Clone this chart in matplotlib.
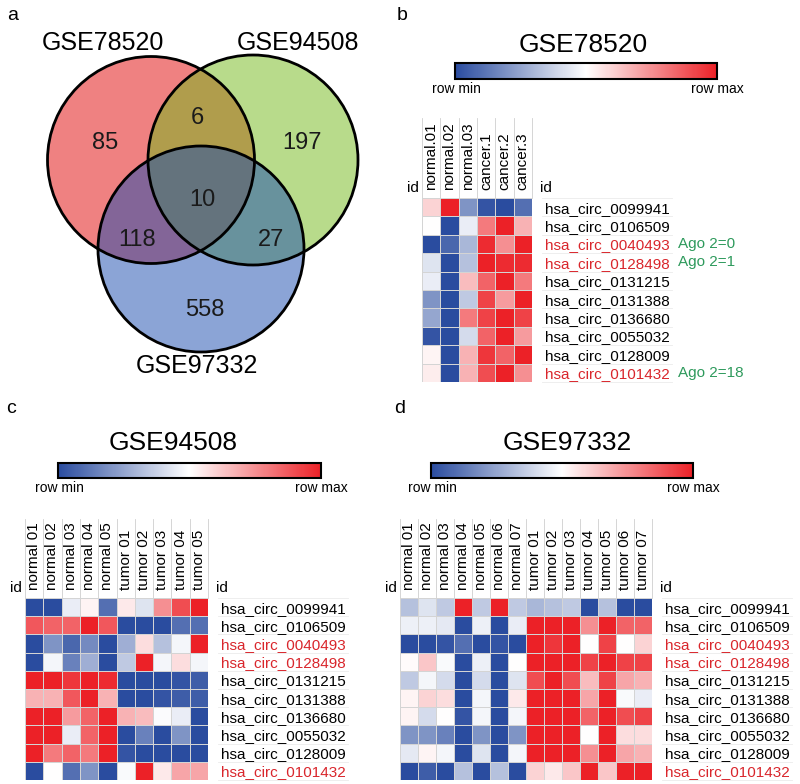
import numpy as np
import matplotlib
matplotlib.use('Agg')
import matplotlib.pyplot as plt
from matplotlib.patches import Circle
from matplotlib.colors import LinearSegmentedColormap
from matplotlib.cm import ScalarMappable

plt.rcParams['font.family'] = ['Liberation Sans', 'DejaVu Sans']

# ---- data ----
venn_names = ['GSE78520', 'GSE94508', 'GSE97332']
# only78520, 78520&94508, only94508, all, 78520&97332, 94508&97332, only97332
venn_counts = [85, 6, 197, 10, 118, 27, 558]

circ_ids = ['hsa_circ_0099941', 'hsa_circ_0106509', 'hsa_circ_0040493', 'hsa_circ_0128498',
            'hsa_circ_0131215', 'hsa_circ_0131388', 'hsa_circ_0136680', 'hsa_circ_0055032',
            'hsa_circ_0128009', 'hsa_circ_0101432']
red_ids = ['hsa_circ_0040493', 'hsa_circ_0128498', 'hsa_circ_0101432']
ago2_ids = ['hsa_circ_0040493', 'hsa_circ_0128498', 'hsa_circ_0101432']
ago2_text = ['Ago 2=0', 'Ago 2=1', 'Ago 2=18']

b_samples = ['normal.01', 'normal.02', 'normal.03', 'cancer.1', 'cancer.2', 'cancer.3']
b_values = [
    [0.2, 1.0, -0.6, -0.95, -1.0, -0.8],
    [0.0, -1.0, -0.1, 0.6, 1.0, 0.35],
    [-1.0, -0.85, -0.4, 0.95, 0.5, 1.0],
    [-0.15, -1.0, -0.35, 1.0, 0.95, 0.95],
    [-0.1, -1.0, 0.3, 0.7, 1.0, 0.6],
    [-0.6, -1.0, -0.3, 0.85, 0.45, 1.0],
    [-0.5, -1.0, 0.6, 0.85, 1.0, 0.85],
    [-0.95, -1.0, -0.2, 0.7, 1.0, 0.45],
    [0.05, -1.0, 0.35, 0.9, 0.7, 1.0],
    [0.08, -1.0, 0.35, 0.8, 1.0, 0.5],
]

c_samples = ['normal 01', 'normal 02', 'normal 03', 'normal 04', 'normal 05',
             'tumor 01', 'tumor 02', 'tumor 03', 'tumor 04', 'tumor 05']
c_values = [
    [-1.0, -1.0, -0.1, 0.05, -0.8, 0.1, -0.15, 0.5, 0.8, 1.0],
    [0.75, 0.7, 0.7, 1.0, 0.75, -1.0, -1.0, -1.0, -0.8, -0.8],
    [-1.0, -0.6, -0.85, -0.65, -1.0, -0.45, 0.15, -0.35, -0.05, 1.0],
    [-1.0, -0.05, -0.7, -0.45, -1.0, -0.3, 1.0, -0.05, 0.15, -0.05],
    [1.0, 1.0, 0.9, 1.0, 0.95, -1.0, -1.0, -1.0, -0.95, -0.9],
    [0.35, 0.35, 0.75, 1.0, 0.35, -1.0, -1.0, -0.95, -0.9, -0.9],
    [1.0, 1.0, 0.45, 0.7, 1.0, 0.35, 0.3, -0.02, -0.1, -1.0],
    [1.0, 1.0, -0.1, 0.7, 1.0, -1.0, -0.7, -1.0, -0.6, -1.0],
    [1.0, 0.6, 0.7, 0.6, 1.0, -0.95, -1.0, -1.0, -1.0, -1.0],
    [-1.0, 0.0, -0.8, -0.6, -1.0, -0.03, 1.0, 0.1, 0.4, 0.4],
]

d_samples = ['normal 01', 'normal 02', 'normal 03', 'normal 04', 'normal 05', 'normal 06', 'normal 07',
             'tumor 01', 'tumor 02', 'tumor 03', 'tumor 04', 'tumor 05', 'tumor 06', 'tumor 07']
d_values = [
    [-0.35, -0.15, -0.3, 1.0, -0.3, 1.0, -0.3, -0.4, -0.35, -0.3, -1.0, -0.35, -1.0, -1.0],
    [-0.08, -0.08, -0.12, -1.0, -0.08, -1.0, -0.1, 1.0, 1.0, 1.0, 0.5, 1.0, 0.7, 0.7],
    [-1.0, -1.0, -0.95, -0.8, -1.0, -0.95, -1.0, 1.0, 0.9, 1.0, 0.0, 0.85, 0.0, 0.2],
    [0.02, 0.25, -0.03, -1.0, -0.08, -1.0, 0.0, 1.0, 1.0, 1.0, 0.85, 1.0, 0.85, 0.85],
    [-0.3, -0.05, -0.2, -1.0, -0.2, -1.0, -0.15, 0.8, 1.0, 0.8, 0.3, 0.85, 0.4, 0.35],
    [0.05, 0.2, 0.15, -1.0, -0.05, -1.0, 0.1, 1.0, 1.0, 1.0, 0.4, 1.0, -0.03, -0.1],
    [0.05, -0.2, 0.0, -0.95, -0.05, -1.0, -0.05, 1.0, 1.0, 1.0, 0.7, 1.0, 0.8, 0.85],
    [-0.6, -0.6, -0.7, -1.0, -0.6, -1.0, -0.6, 1.0, 1.0, 1.0, 0.0, 1.0, 0.15, 0.15],
    [-0.12, 0.05, -0.05, -1.0, -0.15, -1.0, -0.05, 1.0, 1.0, 1.0, 0.5, 1.0, 0.4, 0.35],
    [-1.0, -0.9, -1.0, -0.35, -1.0, -0.35, -1.0, 0.2, 0.1, 0.25, 1.0, 0.25, 1.0, 1.0],
]

# ---- layout helpers (pixel boxes) ----
W, H = 800, 784
fig = plt.figure(figsize=(8, 7.84), dpi=100)
cmap = LinearSegmentedColormap.from_list('rowminmax', ['#2A4C9F', '#FFFFFF', '#EC2127'])
red_txt = '#D9262C'
green_txt = '#2E9A5C'


def box(x0, y0, x1, y1):
    return [x0 / W, 1 - y1 / H, (x1 - x0) / W, (y1 - y0) / H]


def ftext(x, y, s, **kw):
    fig.text(x / W, 1 - y / H, s, **kw)


# ---- panel a: venn ----
ax = fig.add_axes(box(0, 0, 400, 400))
ax.set_xlim(0, 400)
ax.set_ylim(400, 0)
ax.axis('off')
circles = [(151, 160, 103.5, '#E10505'), (253, 160, 105, '#73B919'), (201, 249, 103, '#194BAF')]
for cx, cy, r, col in circles:
    ax.add_patch(Circle((cx, cy), r, facecolor=col, alpha=0.5, edgecolor='none'))
for cx, cy, r, col in circles:
    ax.add_patch(Circle((cx, cy), r, facecolor='none', edgecolor='black', lw=2))
num_pos = [(105, 143), (197, 118), (302, 143), (202, 200), (137, 240), (271, 240), (205, 310)]
for (x, y), v in zip(num_pos, venn_counts):
    ax.text(x, y, str(v), ha='center', va='center', fontsize=17, color='#1a1a1a')
name_pos = [(103, 43), (298, 43), (197, 366)]
for (x, y), s in zip(name_pos, venn_names):
    ax.text(x, y, s, ha='center', va='center', fontsize=18)

# ---- heatmaps ----
def heatmap(rect, cbar_rect, title, title_xy, samples, values, ago=False):
    x0, y0, x1, y1 = rect
    n = len(samples)
    cw = (x1 - x0) / n
    ax = fig.add_axes(box(*rect))
    ax.pcolormesh(np.array(values), cmap=cmap, vmin=-1, vmax=1,
                  edgecolors='#d4d4d4', linewidth=0.4)
    ax.set_xlim(0, n)
    ax.set_ylim(len(circ_ids), 0)
    for s in ax.spines.values():
        s.set_visible(False)
    ax.xaxis.tick_top()
    ax.set_xticks(np.arange(n) + 0.5)
    ax.set_xticklabels(samples, rotation=90, fontsize=11)
    ax.yaxis.tick_right()
    ax.set_yticks(np.arange(len(circ_ids)) + 0.5)
    ax.set_yticklabels(circ_ids, fontsize=11)
    for t in ax.get_yticklabels():
        if t.get_text() in red_ids:
            t.set_color(red_txt)
    ax.tick_params(length=0, pad=6)
    ax.tick_params(axis='y', pad=9)
    # separators between column labels
    for i in range(n + 1):
        ax.plot([i, i], [0, -4.35], color='#cfcfcf', lw=0.6, clip_on=False, zorder=0.5)
    # faint lines under row labels
    lx0 = n + 10 / cw
    lx1 = n + 140 / cw
    for j in range(len(circ_ids) + 1):
        ax.plot([lx0, lx1], [j, j], color='#ebebeb', lw=0.6, clip_on=False, zorder=0.5)
    ax.text(-0.15, -0.15, 'id', ha='right', va='bottom', fontsize=11)
    ax.text(n + 8 / cw, -0.15, 'id', ha='left', va='bottom', fontsize=11)
    if ago:
        for cid, s in zip(ago2_ids, ago2_text):
            j = circ_ids.index(cid)
            ax.text(n + 146 / cw, j + 0.5, s, ha='left', va='center', fontsize=11, color=green_txt)
    # colour key
    cax = fig.add_axes(box(*cbar_rect))
    cb = fig.colorbar(ScalarMappable(cmap=cmap), cax=cax, orientation='horizontal')
    cb.set_ticks([])
    cb.outline.set_linewidth(1.5)
    cx0, cy0, cx1, cy1 = cbar_rect
    ftext(cx0 + 1, cy1 + 10, 'row min', ha='center', va='center', fontsize=10)
    ftext(cx1, cy1 + 10, 'row max', ha='center', va='center', fontsize=10)
    ftext(title_xy[0], title_xy[1], title, ha='center', va='center', fontsize=19)


heatmap((422, 198, 532, 382), (455, 63, 717, 79), 'GSE78520', (583, 45), b_samples, b_values, ago=True)
heatmap((25, 598, 208, 780), (58, 463, 321, 478), 'GSE94508', (173, 443), c_samples, c_values)
heatmap((400, 598, 652, 780), (431, 463, 693, 478), 'GSE97332', (567, 443), d_samples, d_values)

# panel letters
for (x, y), s in zip([(13, 15), (402, 15), (11, 409), (400, 409)], ['a', 'b', 'c', 'd']):
    ftext(x, y, s, ha='center', va='center', fontsize=14)

plt.savefig('out.png', dpi=100)
